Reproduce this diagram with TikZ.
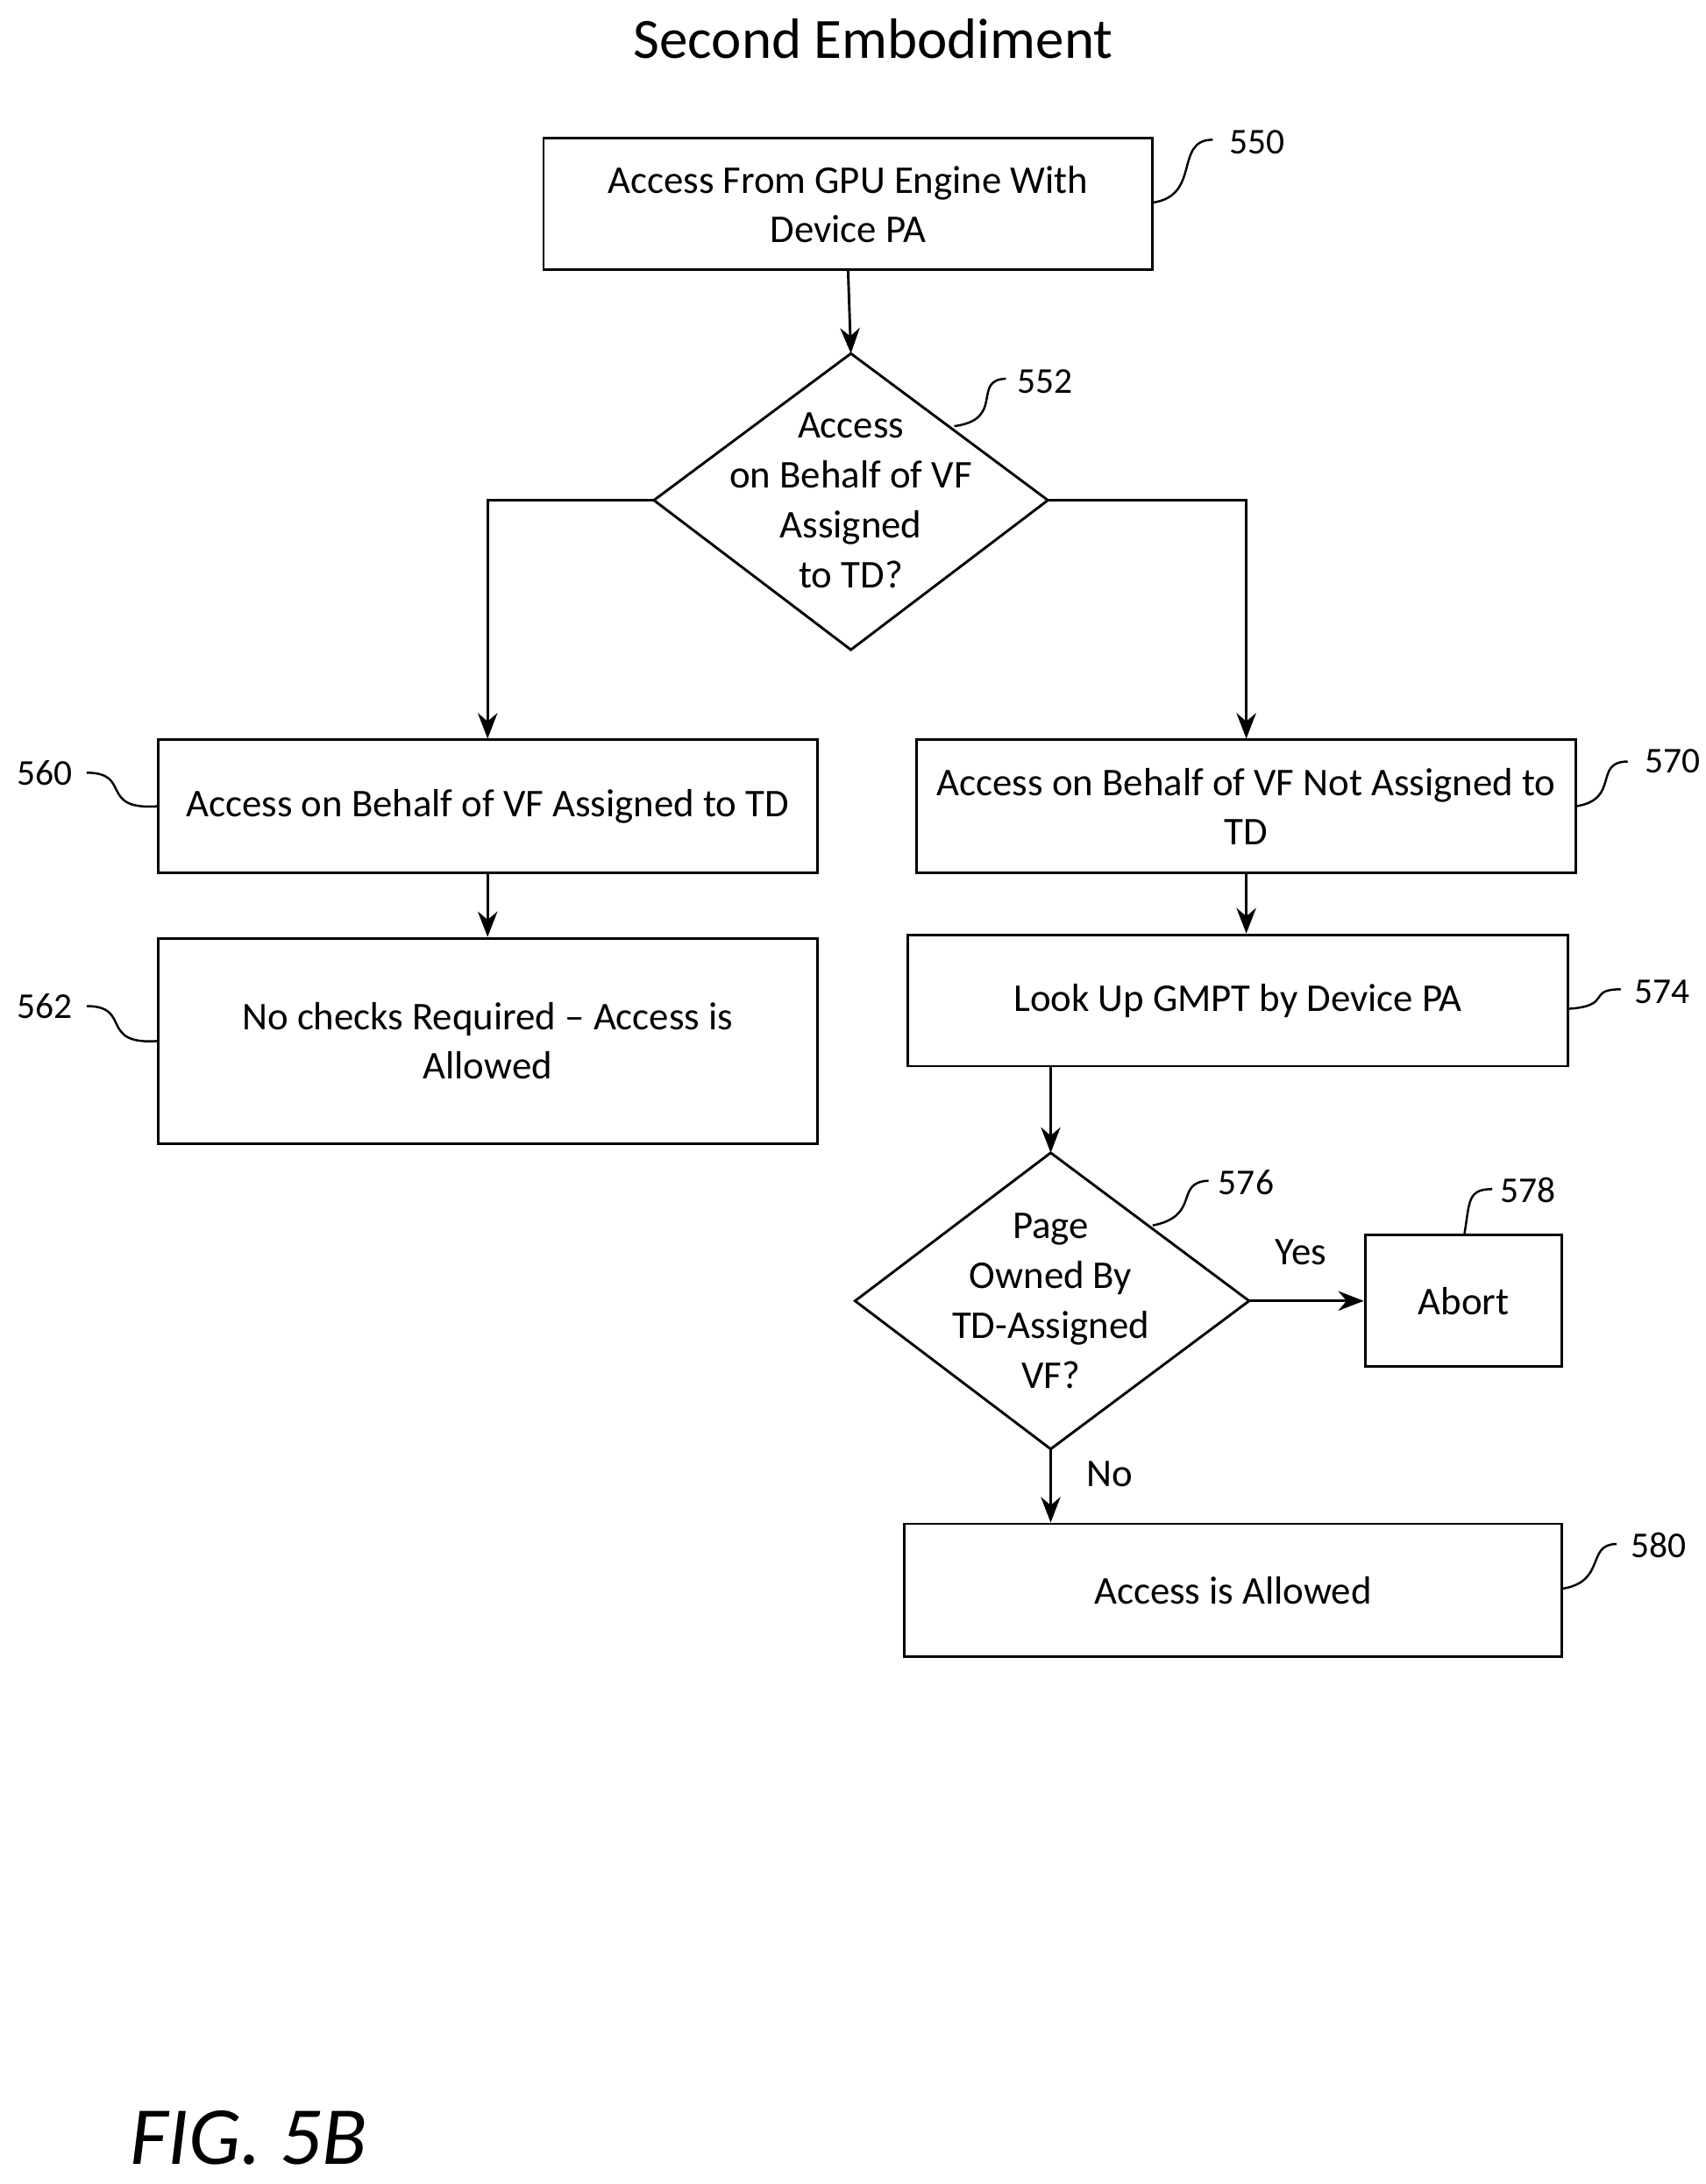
\documentclass[tikz,border=0pt]{standalone}
\usepackage{fontspec}
\setmainfont{Carlito}
\usetikzlibrary{arrows.meta,shapes.geometric}
\begin{document}
\begin{tikzpicture}[x=0.05cm,y=-0.05cm,
  every node/.style={font=\fontsize{40}{50}\selectfont},
  box/.style={draw,line width=2.6pt,align=center,inner sep=0},
  ln/.style={line width=2.6pt},
  arr/.style={ln,-{Stealth[length=26pt,width=20pt]}},
  sq/.style={line width=2.2pt},
  lab/.style={anchor=west,inner sep=0,font=\fontsize{37}{44}\selectfont}]
\useasboundingbox (0,0) rectangle (1221,1563);
\node at (625,28) {\fontsize{58}{62}\selectfont Second Embodiment};
% boxes
\node[box,minimum width=436*0.05cm,minimum height=94*0.05cm] (b550) at (607,146) {Access From GPU Engine With\\Device PA};
\draw[ln] (609,253) -- (750,358) -- (609,465) -- (468,358) -- cycle;
\coordinate (d552t) at (609,253); \coordinate (d552l) at (468,358); \coordinate (d552r) at (750,358);
\node[align=center,font=\fontsize{40}{51}\selectfont] (t552) at (609,358) {Access\\on Behalf of VF\\Assigned\\to TD?};
\node[box,minimum width=472*0.05cm,minimum height=95*0.05cm] (b560) at (349,577) {Access on Behalf of VF Assigned to TD};
\node[box,minimum width=472*0.05cm,minimum height=147*0.05cm] (b562) at (349,745) {No checks Required -- Access is\\Allowed};
\node[box,minimum width=472*0.05cm,minimum height=95*0.05cm] (b570) at (892,577) {Access on Behalf of VF Not Assigned to\\TD};
\node[box,minimum width=472*0.05cm,minimum height=94*0.05cm] (b574) at (886,716) {Look Up GMPT by Device PA};
\draw[ln] (752,825) -- (894,931) -- (752,1037) -- (612,931) -- cycle;
\coordinate (d576t) at (752,825); \coordinate (d576r) at (894,931); \coordinate (d576b) at (752,1037);
\node[align=center,font=\fontsize{40}{51}\selectfont] (t576) at (752,931) {Page\\Owned By\\TD-Assigned\\VF?};
\node[box,minimum width=141*0.05cm,minimum height=94*0.05cm] (b578) at (1047.5,931) {Abort};
\node[box,minimum width=471*0.05cm,minimum height=95*0.05cm] (b580) at (882.5,1138) {Access is Allowed};
% arrows
\draw[arr] (b550.south) -- (d552t);
\draw[arr] (d552l) -| (b560.north);
\draw[arr] (d552r) -| (b570.north);
\draw[arr] (b560.south) -- (b562.north);
\draw[arr] (b570.south) -- (b570.south|-b574.north);
\draw[arr] (b574.south-|d576t) -- (d576t);
\draw[arr] (d576r) -- (b578.west);
\node (yes) at (931,896) {Yes};
\draw[arr] (d576b) -- (d576b|-b580.north);
\node (no) at (794,1055) {No};
% reference labels
\node[lab] (l550) at (880,102) {550};
\node[lab] (l552) at (728,273) {552};
\node[anchor=east,inner sep=0,font=\fontsize{37}{44}\selectfont] (l560) at (52,553) {560};
\node[anchor=east,inner sep=0,font=\fontsize{37}{44}\selectfont] (l562) at (52,720) {562};
\node[lab] (l570) at (1177,545) {570};
\node[lab] (l574) at (1170,710) {574};
\node[lab] (l576) at (872,846) {576};
\node[lab] (l578) at (1074,852) {578};
\node[lab] (l580) at (1167,1106) {580};
\coordinate (c550) at (868,100); \coordinate (c552) at (720,271);
\coordinate (c560) at (62,553); \coordinate (c562) at (62,720);
\coordinate (c570) at (1165,545); \coordinate (c574) at (1160,708);
\coordinate (c576) at (865,845); \coordinate (c578) at (1068,851);
\coordinate (c580) at (1157,1105);
\draw[sq] (825,145) .. controls (860,140) and (840,100) .. (c550);
\draw[sq] (683,305) .. controls (720,300) and (695,272) .. (c552);
\draw[sq] (113,577) .. controls (70,580) and (95,553) .. (c560);
\draw[sq] (113,745) .. controls (70,748) and (95,720) .. (c562);
\draw[sq] (1128,577) .. controls (1160,572) and (1140,545) .. (c570);
\draw[sq] (1122,722) .. controls (1155,720) and (1135,708) .. (c574);
\draw[sq] (825,877) .. controls (860,870) and (840,846) .. (c576);
\draw[sq] (1048,884) .. controls (1052,860) and (1050,851) .. (c578);
\draw[sq] (1118,1137) .. controls (1150,1132) and (1135,1105) .. (c580);
\node[font=\fontsize{84}{90}\selectfont\itshape] at (178,1530) {FIG. 5B};
\end{tikzpicture}
\end{document}
